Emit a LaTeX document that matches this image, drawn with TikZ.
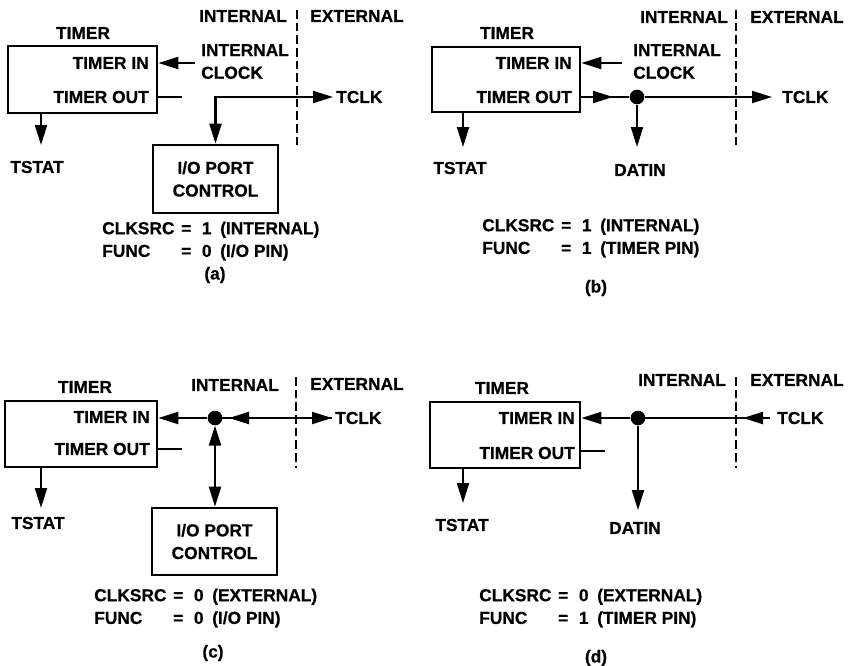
\documentclass[tikz,border=0pt]{standalone}
\usepackage{fontspec}
\setmainfont{Liberation Sans}[BoldFeatures={FakeBold=0.6}]
\usetikzlibrary{arrows.meta,fit}
\newcommand{\eqrow}[3]{#1 & =\hspace{8pt}#2\hspace{6.5pt}#3}
\begin{document}
\begin{tikzpicture}[x=0.75pt,y=-0.75pt,
  every node/.style={font=\fontsize{13}{17}\selectfont\bfseries, inner sep=0pt},
  tbox/.style={draw, line width=2pt, inner sep=0pt},
  ln/.style={line width=1.6pt},
  arr/.style={ln, -{Triangle[length=15pt,width=9pt]}},
  dbl/.style={ln, {Triangle[length=15pt,width=9pt]}-{Triangle[length=15pt,width=9pt]}},
  dashln/.style={line width=1.3pt, dash pattern=on 6.5pt off 3pt},
  jdot/.style={circle, fill, minimum size=11pt, inner sep=0pt},
  eqtab/.style={anchor=west}]
\useasboundingbox (0,0) rectangle (853,665);

% ---------------- (a) ----------------
\coordinate (a1) at (8,46); \coordinate (a2) at (157,113);
\node[tbox, fit=(a1)(a2)] (ta) {};
\node (tla) at (83,33) {TIMER};
\node[anchor=east] (tina) at (149,63) {TIMER IN};
\node[anchor=east] (touta) at (149,97) {TIMER OUT};
\node[anchor=west, align=left] (icka) at (201,61.5) {INTERNAL\\CLOCK};
\coordinate (cka) at (195,63);
\draw[arr] (cka) -- (ta.east |- cka);
\coordinate (stuba) at (182,97);
\draw[ln] (ta.east |- stuba) -- (stuba);
\node (tsa) at (37,167) {TSTAT};
\coordinate (tstipa) at (41,145);
\draw[arr] (ta.south -| tstipa) -- (tstipa);
\node (inta) at (243,16) {INTERNAL};
\node (exta) at (357,16) {EXTERNAL};
\coordinate (da1) at (297,10); \coordinate (da2) at (297,147);
\draw[dashln] (da1) -- (da2);
\node[anchor=west] (tclka) at (336,97) {TCLK};
\coordinate (tclktipa) at (333,97);
\coordinate (i1) at (153,145); \coordinate (i2) at (278,213);
\node[tbox, fit=(i1)(i2)] (ioa) {};
\node[align=center] (ioatxt) at (ioa.center) {I/O PORT\\CONTROL};
\draw[dbl] (ioa.north) |- (tclktipa);
\node[eqtab] (eqa) at (102,241) {\begin{tabular}{@{}l@{\hspace{5pt}}l@{}}\eqrow{CLKSRC}{1}{(INTERNAL)}\\ \eqrow{FUNC}{0}{(I/O PIN)}\end{tabular}};
\node (capa) at (215,275) {(a)};

% ---------------- (b) ----------------
\coordinate (b1) at (432,47); \coordinate (b2) at (580,112);
\node[tbox, fit=(b1)(b2)] (tb) {};
\node (tlb) at (507,33) {TIMER};
\node[anchor=east] (tinb) at (572,63) {TIMER IN};
\node[anchor=east] (toutb) at (572,97) {TIMER OUT};
\node[anchor=west, align=left] (ickb) at (633,61.5) {INTERNAL\\CLOCK};
\coordinate (ckb) at (622,63);
\draw[arr] (ckb) -- (tb.east |- ckb);
\node[jdot] (dotb) at (637,97) {};
\coordinate (midb) at (613,97);
\draw[ln] (tb.east |- dotb) -- (dotb);
\draw[arr] (tb.east |- dotb) -- (midb);
\coordinate (tclktipb) at (772,97);
\draw[arr] (dotb) -- (tclktipb);
\node[anchor=west] (tclkb) at (782,97) {TCLK};
\node (datinb) at (640,170) {DATIN};
\coordinate (datintipb) at (637,147);
\draw[arr] (dotb) -- (datintipb);
\node (tsb) at (460,168) {TSTAT};
\coordinate (tstipb) at (463,147);
\draw[arr] (tb.south -| tstipb) -- (tstipb);
\node (intb) at (684,17) {INTERNAL};
\node (extb) at (797,17) {EXTERNAL};
\coordinate (db1) at (736,10); \coordinate (db2) at (736,148);
\draw[dashln] (db1) -- (db2);
\node[eqtab] (eqb) at (482,238) {\begin{tabular}{@{}l@{\hspace{5pt}}l@{}}\eqrow{CLKSRC}{1}{(INTERNAL)}\\ \eqrow{FUNC}{1}{(TIMER PIN)}\end{tabular}};
\node (capb) at (596,288) {(b)};

% ---------------- (c) ----------------
\coordinate (c1) at (5,401); \coordinate (c2) at (157,467);
\node[tbox, fit=(c1)(c2)] (tc) {};
\node (tlc) at (85,387) {TIMER};
\node[anchor=east] (tinc) at (150,417) {TIMER IN};
\node[anchor=east] (toutc) at (150,449) {TIMER OUT};
\node[jdot] (dotc) at (215,418) {};
\coordinate (tclktipc) at (332,418);
\draw[ln] (dotc.center) -- (tclktipc);
\draw[arr] (dotc) -- (tc.east |- dotc);
\coordinate (lc) at (229,418);
\draw[dbl] (lc) -- (tclktipc);
\node[anchor=west] (tclkc) at (335,418) {TCLK};
\coordinate (stubc) at (182,449);
\draw[ln] (tc.east |- stubc) -- (stubc);
\node (tsc) at (38,523) {TSTAT};
\coordinate (tstipc) at (41,508);
\draw[arr] (tc.south -| tstipc) -- (tstipc);
\node (intc) at (235,385) {INTERNAL};
\node (extc) at (357,384) {EXTERNAL};
\coordinate (dc1) at (296,377); \coordinate (dc2) at (296,468);
\draw[dashln] (dc1) -- (dc2);
\coordinate (j1) at (152,508); \coordinate (j2) at (277,575);
\node[tbox, fit=(j1)(j2)] (ioc) {};
\node[align=center] (ioctxt) at (ioc.center) {I/O PORT\\CONTROL};
\draw[dbl] (dotc) -- (dotc |- ioc.north);
\node[eqtab] (eqc) at (94,608) {\begin{tabular}{@{}l@{\hspace{5pt}}l@{}}\eqrow{CLKSRC}{0}{(EXTERNAL)}\\ \eqrow{FUNC}{0}{(I/O PIN)}\end{tabular}};
\node (capc) at (213,653) {(c)};

% ---------------- (d) ----------------
\coordinate (e1) at (430,402); \coordinate (e2) at (580,468);
\node[tbox, fit=(e1)(e2)] (td) {};
\node (tld) at (502,388) {TIMER};
\node[anchor=east] (tind) at (575,418) {TIMER IN};
\node[anchor=east] (toutd) at (575,453) {TIMER OUT};
\node[jdot] (dotd) at (638,418) {};
\draw[arr] (dotd) -- (td.east |- dotd);
\coordinate (tcsd) at (770,418); \coordinate (tctd) at (743,418);
\draw[ln] (tcsd) -- (dotd.center);
\draw[arr] (tcsd) -- (tctd);
\node[anchor=west] (tclkd) at (777,418) {TCLK};
\coordinate (stubd) at (605,451);
\draw[ln] (td.east |- stubd) -- (stubd);
\node (datind) at (635,528) {DATIN};
\coordinate (datintipd) at (638,510);
\draw[arr] (dotd) -- (datintipd);
\node (tsd) at (462,525) {TSTAT};
\coordinate (tstipd) at (463,503);
\draw[arr] (td.south -| tstipd) -- (tstipd);
\node (intd) at (682,380) {INTERNAL};
\node (extd) at (797,380) {EXTERNAL};
\coordinate (dd1) at (736,377); \coordinate (dd2) at (736,468);
\draw[dashln] (dd1) -- (dd2);
\node[eqtab] (eqd) at (479,608) {\begin{tabular}{@{}l@{\hspace{5pt}}l@{}}\eqrow{CLKSRC}{0}{(EXTERNAL)}\\ \eqrow{FUNC}{1}{(TIMER PIN)}\end{tabular}};
\node (capd) at (596,658) {(d)};
\end{tikzpicture}
\end{document}
